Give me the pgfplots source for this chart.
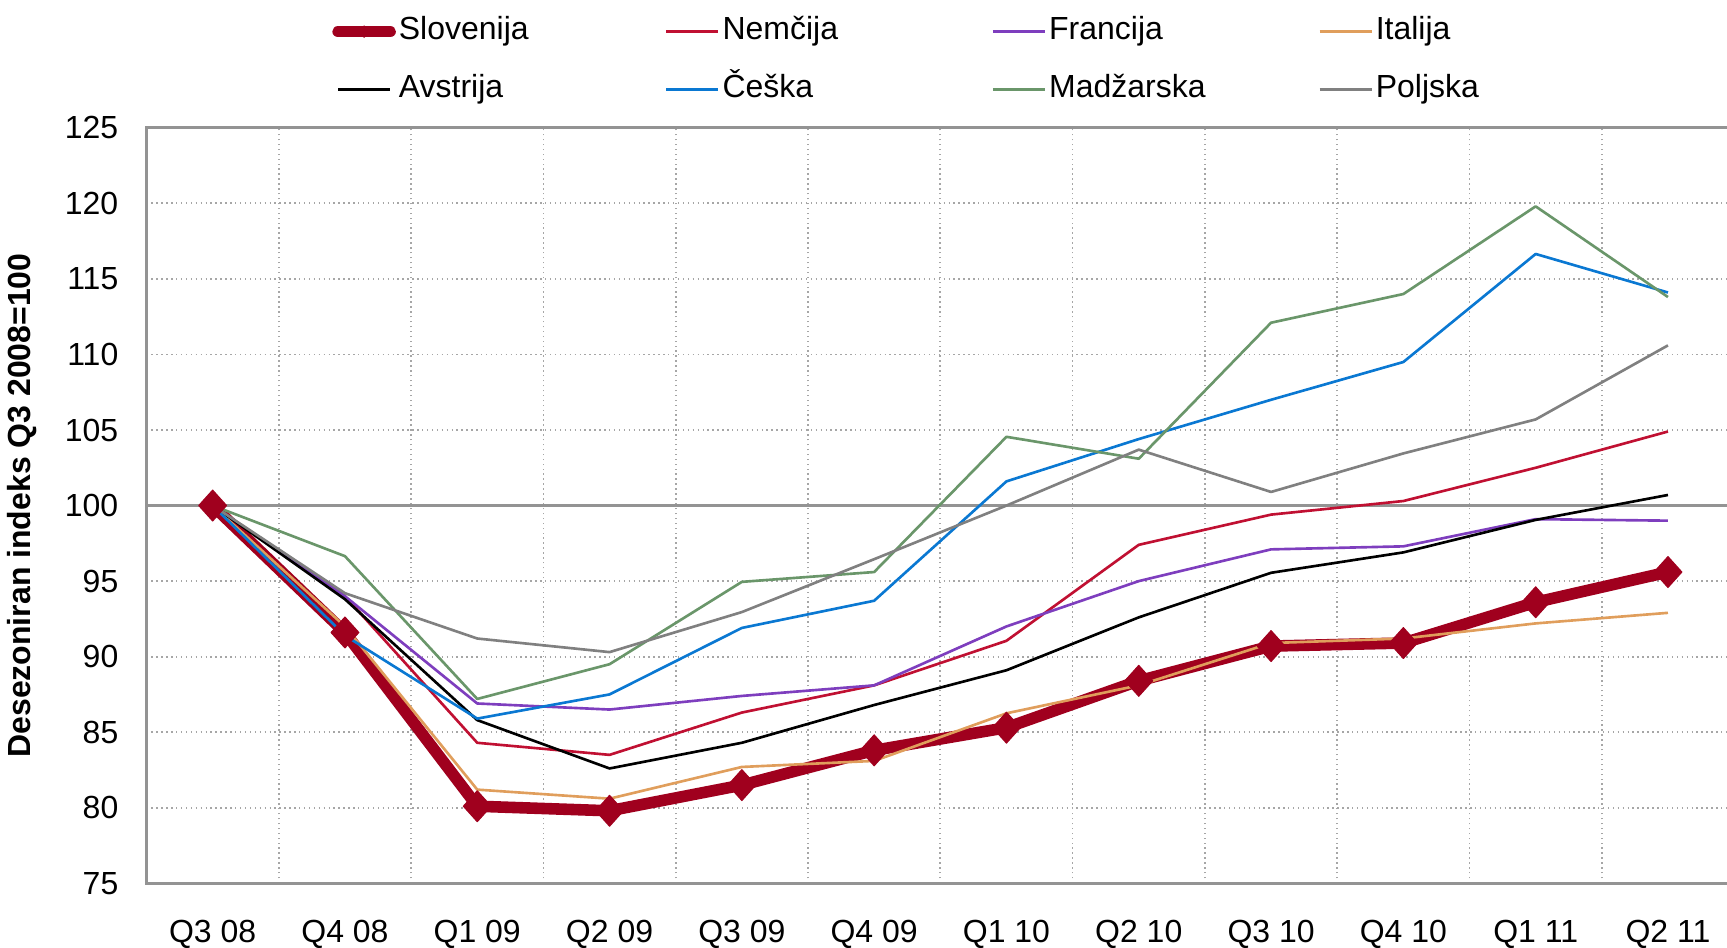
\documentclass[border=0pt]{standalone}
\usepackage{fontspec}
\setmainfont{Liberation Sans}
\usepackage{pgfplots}
\pgfplotsset{compat=1.18}

\definecolor{slo}{RGB}{160,0,30}
\definecolor{nem}{RGB}{192,16,50}
\definecolor{fra}{RGB}{126,62,190}
\definecolor{ita}{RGB}{224,158,92}
\definecolor{ces}{RGB}{10,120,210}
\definecolor{mad}{RGB}{106,150,106}
\definecolor{pol}{RGB}{128,128,128}

\newcommand{\lbl}[2][2.66cm]{\makebox[#1][l]{#2}}
\pgfplotsset{slolegend/.style={legend image code/.code={\draw[mark repeat=2,mark phase=2,##1,mark size=1.6pt] plot coordinates {(0cm,0cm) (0.26cm,0cm) (0.52cm,0cm)};}}}

\begin{document}
\begin{tikzpicture}
\begin{axis}[
    scale only axis,
    width=15.876cm, height=7.555cm,
    xmin=-0.5, xmax=11.5,
    ymin=75, ymax=125,
    xtick={0,...,11},
    xticklabels={Q3 08,Q4 08,Q1 09,Q2 09,Q3 09,Q4 09,Q1 10,Q2 10,Q3 10,Q4 10,Q1 11,Q2 11},
    minor xtick={0.5,1.5,...,10.5},
    ytick={75,80,...,125},
    xminorgrids, ymajorgrids,
    major tick length=0pt, minor tick length=0pt,
    grid style={densely dotted, gray!70, line width=0.5pt},
    extra y ticks={100}, extra y tick labels={},
    extra y tick style={grid=major, major grid style={solid, gray!85, line width=0.8pt}},
    axis line style={gray!85, line width=0.8pt},
    /pgf/number format/assume math mode=true,
    tick label style={font=\fontsize{9.1}{11}\selectfont},
    yticklabel style={anchor=east, inner sep=0pt, xshift=-0.275cm},
    xticklabel style={anchor=north, inner sep=0pt, yshift=-0.36cm},
    ylabel={Desezoniran indeks Q3 2008=100},
    ylabel style={font=\bfseries\fontsize{9.1}{11}\selectfont, at={(axis description cs:-0.0785,0.5)}, anchor=center, inner sep=0pt},
    legend columns=4,
    legend cell align=left,
    legend style={draw=none, fill=none, at={(axis description cs:0.1166,1.1508)}, anchor=north west,
        font=\fontsize{9.1}{11}\selectfont, inner sep=0pt,
        nodes={inner sep=0pt, text height=0.72em, text depth=0.25em},
        column sep=0.03cm, row sep=0.24cm},
    legend image code/.code={\draw[mark repeat=2,mark phase=2,#1] plot coordinates {(0cm,0cm) (0.26cm,0cm) (0.52cm,0cm)};},
    every axis plot/.append style={line width=0.75pt, line join=round},
]
\addplot[slo, line width=3.3pt, line cap=round, mark=diamond*, mark size=4.4pt,
    mark options={solid, line width=0.3pt, xscale=1.2}, slolegend] coordinates {
  (0,100) (1,91.6) (2,80.1) (3,79.8) (4,81.5) (5,83.8) (6,85.3) (7,88.4) (8,90.7) (9,90.9) (10,93.6) (11,95.6)};
\addlegendentry{\lbl[2.63cm]{Slovenija}}
\addplot[nem] coordinates {
  (0,100) (1,94.0) (2,84.3) (3,83.5) (4,86.3) (5,88.1) (6,91.05) (7,97.4) (8,99.4) (9,100.3) (10,102.5) (11,104.9)};
\addlegendentry{\lbl{Nemčija}}
\addplot[fra] coordinates {
  (0,100) (1,94.0) (2,86.9) (3,86.5) (4,87.4) (5,88.1) (6,92.0) (7,95.0) (8,97.1) (9,97.3) (10,99.1) (11,99.0)};
\addlegendentry{\lbl{Francija}}
\addplot[ita] coordinates {
  (0,100) (1,92.0) (2,81.2) (3,80.6) (4,82.7) (5,83.1) (6,86.25) (7,88.1) (8,90.9) (9,91.2) (10,92.2) (11,92.9)};
\addlegendentry{\lbl{Italija}}
\addplot[black] coordinates {
  (0,100) (1,93.8) (2,85.8) (3,82.6) (4,84.3) (5,86.8) (6,89.1) (7,92.6) (8,95.55) (9,96.9) (10,99.05) (11,100.7)};
\addlegendentry{\lbl[2.63cm]{Avstrija}}
\addplot[ces] coordinates {
  (0,100) (1,91.4) (2,85.9) (3,87.5) (4,91.9) (5,93.7) (6,101.6) (7,104.4) (8,107.0) (9,109.5) (10,116.65) (11,114.1)};
\addlegendentry{\lbl{Češka}}
\addplot[mad] coordinates {
  (0,100) (1,96.65) (2,87.2) (3,89.5) (4,94.95) (5,95.6) (6,104.55) (7,103.1) (8,112.1) (9,114.0) (10,119.8) (11,113.8)};
\addlegendentry{\lbl{Madžarska}}
\addplot[pol] coordinates {
  (0,100) (1,94.2) (2,91.2) (3,90.3) (4,92.95) (5,96.45) (6,100.0) (7,103.7) (8,100.9) (9,103.45) (10,105.7) (11,110.6)};
\addlegendentry{\lbl{Poljska}}
\end{axis}
\pgfresetboundingbox
\path[use as bounding box] (-1.465cm,-0.637cm) rectangle (15.805cm,8.833cm);
\end{tikzpicture}
\end{document}
